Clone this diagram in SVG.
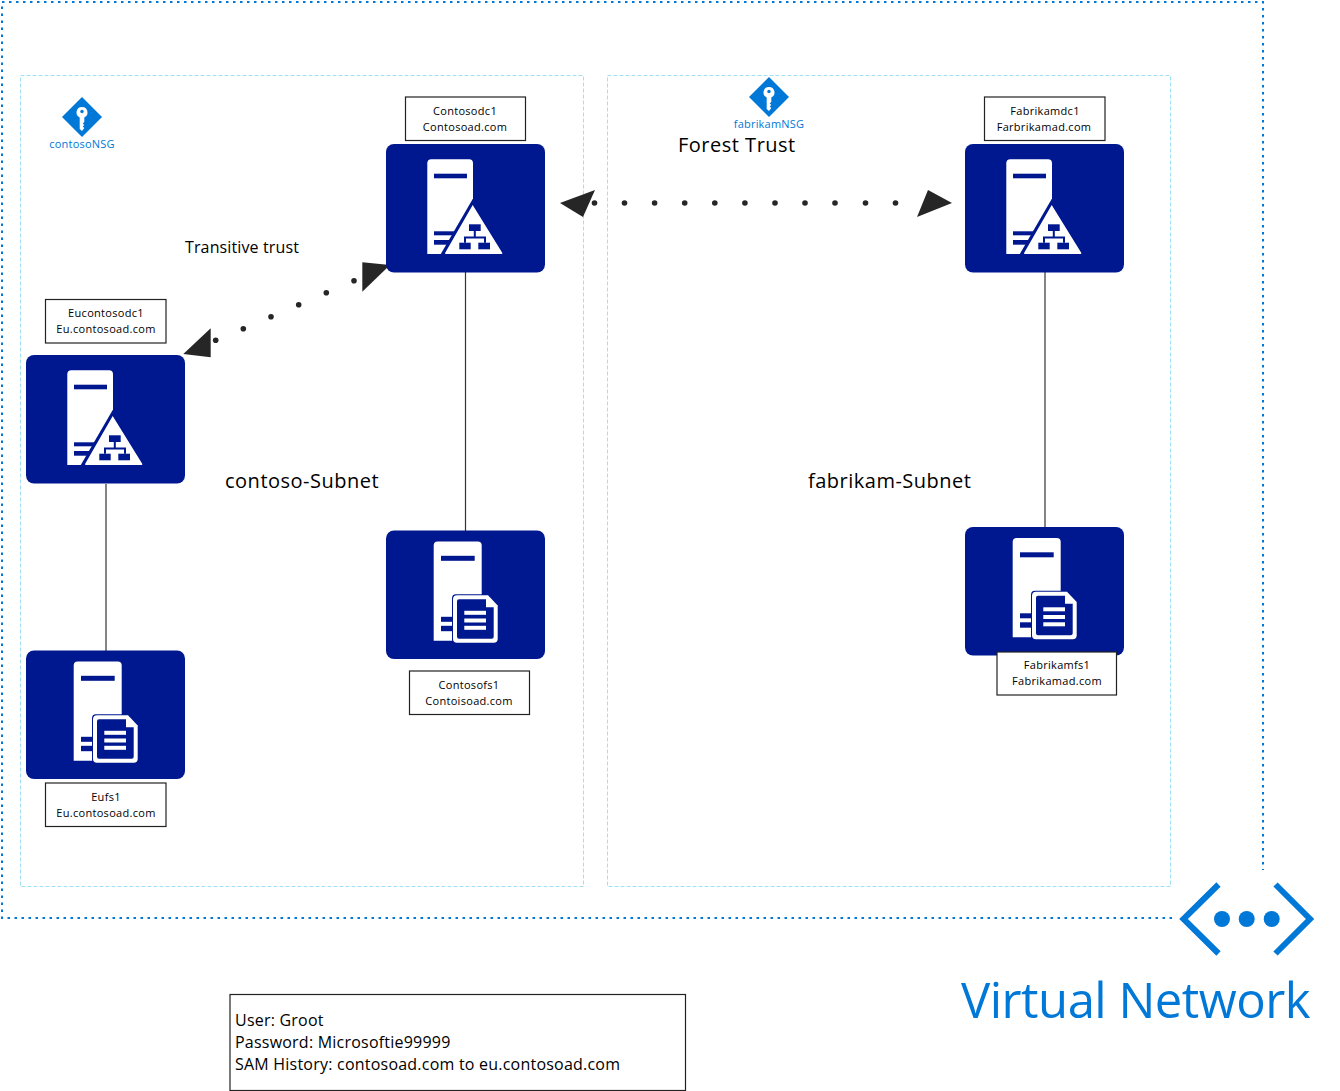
<svg xmlns="http://www.w3.org/2000/svg" width="1340" height="1091" viewBox="0 0 1340 1091">
<style>
text{font-family:"Open Sans","Noto Sans","Liberation Sans",sans-serif;}
.subnet{fill:none;stroke:#9fe0f5;stroke-width:1;stroke-dasharray:4 2;}
.vnet{fill:none;stroke:#0078d7;stroke-width:2;stroke-dasharray:2.500 4.500;}
.card{fill:#00188f;}
.w{fill:#fff;}
.n{fill:#00188f;}
.lbl{fill:#fff;stroke:#222;stroke-width:1.2;}
.t11{font-size:11px;fill:#000;text-anchor:middle;letter-spacing:.3px;}
.t20{font-size:20px;fill:#000;letter-spacing:.5px;}
.t16{font-size:16px;fill:#000;letter-spacing:.22px;}
.nsg{font-size:11px;fill:#0078d7;text-anchor:middle;letter-spacing:.2px;}
.link{stroke:#333;stroke-width:1.2;fill:none;}
.dot{fill:#262626;}
.head{fill:#262626;}
.kd{fill:#0078d7;}
.vn{fill:#0078d7;}
</style>
<defs>
<g id="dc">
<rect class="card" width="159" height="128.500" rx="8"/>
<path class="w" d="M41.300 110V19.300q0-4 4-4H83q4 0 4 4V110Z"/>
<rect class="n" x="48" y="29.700" width="33" height="4.600"/>
<rect class="n" x="48" y="87.300" width="22" height="4"/>
<rect class="n" x="48" y="96" width="18" height="4.700"/>
<path class="n" d="M54.500 110.500L86.700 55H120V111H54.500Z"/>
<path class="w" d="M86.700 61L116.200 108.800Q116.800 110 115.500 110H60Q58.500 110 59.200 108.800Z"/>
<rect class="n" x="83" y="80.300" width="11.700" height="6.700"/>
<rect class="n" x="87.800" y="87" width="2" height="6"/>
<path class="n" d="M78 92.500H100V98.700H98V94.500H80V98.700H78Z"/>
<rect class="n" x="73.300" y="98.700" width="11.400" height="6.600"/>
<rect class="n" x="92.300" y="98.700" width="11.700" height="6.600"/>
</g>
<g id="fs">
<rect class="card" width="159" height="128.500" rx="8"/>
<path class="w" d="M47.700 110.300V15q0-4 4-4H91.700q4 0 4 4V110.300Z"/>
<rect class="n" x="55" y="25.300" width="33.700" height="5"/>
<rect class="n" x="55" y="86.300" width="14" height="5"/>
<rect class="n" x="55" y="95.300" width="14" height="5.400"/>
<path class="n" d="M70 63.700H103L113 75V113.300H70q-4 0-4-4V67.700q0-4 4-4Z"/>
<path class="w" d="M71 64.700H102L111.700 75V108.300q0 4-4 4H71q-4 0-4-4V68.700q0-4 4-4Z"/>
<path class="n" d="M73 68.700H100V76.700H107.700V106.300q0 2-2 2H73q-2 0-2-2V70.700q0-2 2-2Z"/>
<rect class="w" x="78.300" y="80.300" width="21.700" height="4"/>
<rect class="w" x="78.300" y="88" width="21.700" height="4"/>
<rect class="w" x="78.300" y="95.300" width="21.700" height="4"/>
</g>
<g id="key">
<path class="kd" d="M0 -20L20 0 0 20 -20 0Z"/>
<path class="w" d="M0 -10a5.500 5.500 0 0 1 2.300 10.500V5L0.700 6.500 2.300 8 0.700 9.500 2.300 11 0 14 -2.300 12V.5a5.500 5.500 0 0 1 2.300-10.500Z"/>
<circle class="kd" cx="0" cy="-5.500" r="1.700"/>
</g>
</defs>

<g id="vnet-boundary">
<path class="vnet" d="M1172 918H2V2H1263V870"/>
</g>
<g id="contoso-subnet"><rect class="subnet" x="20.500" y="75.500" width="563" height="811"/>
<text class="t20" x="225" y="488">contoso-Subnet</text></g>
<g id="fabrikam-subnet"><rect class="subnet" x="607.500" y="75.500" width="563" height="811"/>
<text class="t20" x="808" y="488">fabrikam-Subnet</text></g>

<g id="connectors">
<line class="link" x1="465.500" y1="272" x2="465.500" y2="531"/>
<line class="link" x1="1045" y1="272" x2="1045" y2="527"/>
<line class="link" x1="106" y1="484" x2="106" y2="651"/>
<g id="forest-trust-link">
<path class="head" d="M560 203L595 190 583 217Z"/>
<path class="head" d="M952 203L928 190 917 217Z"/>
<g class="dot"><circle cx="594.500" cy="203" r="2.800"/><circle cx="624.500" cy="203" r="2.800"/><circle cx="654.600" cy="203" r="2.800"/><circle cx="684.700" cy="203" r="2.800"/><circle cx="714.800" cy="203" r="2.800"/><circle cx="744.900" cy="203" r="2.800"/><circle cx="775" cy="203" r="2.800"/><circle cx="805" cy="203" r="2.800"/><circle cx="835" cy="203" r="2.800"/><circle cx="865.500" cy="203" r="2.800"/><circle cx="895.500" cy="203" r="2.800"/></g>
</g>
<g id="transitive-trust-link">
<path class="head" d="M183.300 354L210.700 328.300V357.300Z"/>
<path class="head" d="M390 265L362.300 262.300V291.700Z"/>
<g class="dot"><circle cx="215.700" cy="340.300" r="2.800"/><circle cx="243.300" cy="328.700" r="2.800"/><circle cx="271" cy="316.700" r="2.800"/><circle cx="298.700" cy="304.700" r="2.800"/><circle cx="326.300" cy="292.700" r="2.800"/><circle cx="354" cy="280.700" r="2.800"/></g>
</g>
</g>

<g id="contosodc1"><use href="#dc" x="386" y="144"/>
<rect class="lbl" x="405.500" y="97" width="120" height="43.500"/>
<text class="t11" x="465" y="115">Contosodc1</text><text class="t11" x="465" y="131">Contosoad.com</text></g>
<g id="fabrikamdc1"><use href="#dc" x="965" y="144"/>
<rect class="lbl" x="984.500" y="97" width="120.500" height="43.500"/>
<text class="t11" x="1045" y="115">Fabrikamdc1</text><text class="t11" x="1044" y="131">Farbrikamad.com</text></g>
<g id="eucontosodc1"><use href="#dc" x="26" y="355"/>
<rect class="lbl" x="45.500" y="299.500" width="120.500" height="43.500"/>
<text class="t11" x="106" y="317">Eucontosodc1</text><text class="t11" x="106" y="333">Eu.contosoad.com</text></g>
<g id="contosofs1"><use href="#fs" x="386" y="530.500"/>
<rect class="lbl" x="409.500" y="671" width="120" height="43.500"/>
<text class="t11" x="469" y="689">Contosofs1</text><text class="t11" x="469" y="705">Contoisoad.com</text></g>
<g id="fabrikamfs1"><use href="#fs" x="965" y="527"/>
<rect class="lbl" x="997" y="652" width="119.500" height="43"/>
<text class="t11" x="1057" y="669">Fabrikamfs1</text><text class="t11" x="1057" y="685">Fabrikamad.com</text></g>
<g id="eufs1"><use href="#fs" x="26" y="650.500"/>
<rect class="lbl" x="45.500" y="783" width="120.500" height="43.500"/>
<text class="t11" x="106" y="801">Eufs1</text><text class="t11" x="106" y="817">Eu.contosoad.com</text></g>

<g id="contosoNSG"><use href="#key" x="82" y="117"/><text class="nsg" x="82" y="148">contosoNSG</text></g>
<g id="fabrikamNSG"><use href="#key" x="769" y="97"/><text class="nsg" x="769" y="128">fabrikamNSG</text></g>

<g id="labels">
<text class="t20" x="678" y="152">Forest Trust</text>
<text class="t16" style="letter-spacing:.13px" x="185" y="253">Transitive trust</text>
</g>

<g id="virtual-network">
<path fill="none" stroke="#0078d7" stroke-width="6" d="M1218.500 884.500L1183.500 919 1218.500 953.500M1275.500 884.500L1310 919 1275.500 953.500"/>
<circle class="vn" cx="1222" cy="919" r="8"/><circle class="vn" cx="1246.700" cy="919" r="8"/><circle class="vn" cx="1271.700" cy="919" r="8"/>
<text x="961" y="1018" font-size="49" fill="#0078d7" style="letter-spacing:-.5px">Virtual Network</text>
</g>

<g id="credentials">
<rect x="230" y="994.500" width="455.500" height="96" fill="#fff" stroke="#222" stroke-width="1.200"/>
<text class="t16" x="235" y="1026">User: Groot</text>
<text class="t16" x="235" y="1048">Password: Microsoftie99999</text>
<text class="t16" x="235" y="1070">SAM History: contosoad.com to eu.contosoad.com</text>
</g>
</svg>
